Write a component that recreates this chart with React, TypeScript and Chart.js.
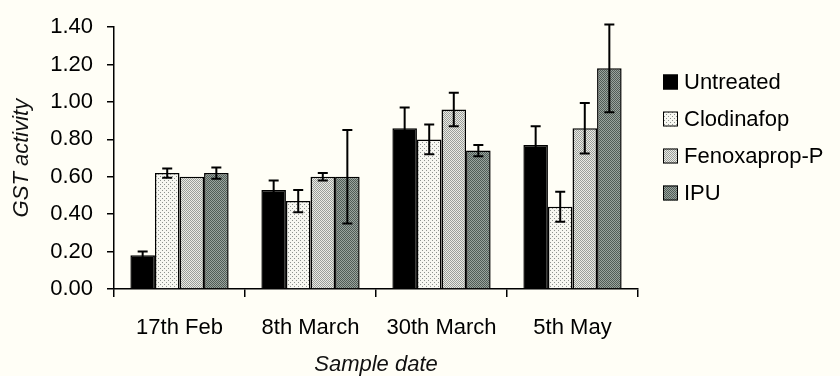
import React, { useEffect, useRef } from "react";
import { Chart, registerables } from "chart.js";

Chart.register(...registerables);

const categories = ["17th Feb", "8th March", "30th March", "5th May"];
const seriesNames = ["Untreated", "Clodinafop", "Fenoxaprop-P", "IPU"];
const untreated = [0.18, 0.53, 0.86, 0.77];
const untreatedErr = [0.02, 0.05, 0.11, 0.1];
const clodinafop = [0.62, 0.47, 0.8, 0.44];
const clodinafopErr = [0.025, 0.06, 0.08, 0.08];
const fenoxaprop = [0.6, 0.6, 0.96, 0.86];
const fenoxapropErr = [0, 0.02, 0.09, 0.135];
const ipu = [0.62, 0.6, 0.74, 1.18];
const ipuErr = [0.03, 0.25, 0.03, 0.235];
const yTicks = [0, 0.2, 0.4, 0.6, 0.8, 1.0, 1.2, 1.4];

const FONT = "'Liberation Sans', Arial, sans-serif";
const FS = 22;
const BG = "#fffef6";

function makePattern(size: number, bg: string, dot: string, dots: number[][]) {
  const c = document.createElement("canvas");
  c.width = size;
  c.height = size;
  const g = c.getContext("2d")!;
  g.fillStyle = bg;
  g.fillRect(0, 0, size, size);
  g.fillStyle = dot;
  dots.forEach(([x, y]) => g.fillRect(x, y, 1, 1));
  return g.createPattern(c, "repeat") as CanvasPattern;
}

const errorBarsPlugin = {
  id: "errorBars",
  afterDatasetsDraw(chart: any) {
    const ctx = chart.ctx;
    const yScale = chart.scales.y;
    ctx.save();
    ctx.strokeStyle = "#000";
    ctx.lineWidth = 2;
    chart.data.datasets.forEach((ds: any, i: number) => {
      const meta = chart.getDatasetMeta(i);
      meta.data.forEach((el: any, j: number) => {
        const err = ds.errors[j];
        if (!err) return;
        const v = ds.data[j];
        const yTop = yScale.getPixelForValue(v + err);
        const yBot = yScale.getPixelForValue(v - err);
        const x = el.x;
        ctx.beginPath();
        ctx.moveTo(x, yTop);
        ctx.lineTo(x, yBot);
        ctx.moveTo(x - 5, yTop);
        ctx.lineTo(x + 5, yTop);
        ctx.moveTo(x - 5, yBot);
        ctx.lineTo(x + 5, yBot);
        ctx.stroke();
      });
    });
    ctx.restore();
  },
};

const legendPlugin = {
  id: "customLegend",
  afterDraw(chart: any) {
    const ctx = chart.ctx;
    const area = chart.chartArea;
    const x0 = area.right + 25;
    const y0 = 82;
    const step = 37;
    ctx.save();
    chart.data.datasets.forEach((ds: any, i: number) => {
      const cy = y0 + i * step;
      ctx.fillStyle = ds.backgroundColor;
      ctx.fillRect(x0, cy - 7.5, 15, 15);
      ctx.strokeStyle = "#000";
      ctx.lineWidth = 1;
      ctx.strokeRect(x0 + 0.5, cy - 7, 14, 14);
      ctx.fillStyle = "#000";
      ctx.font = `${FS}px ${FONT}`;
      ctx.textBaseline = "middle";
      ctx.textAlign = "left";
      ctx.fillText(ds.label, x0 + 21, cy + 1);
    });
    ctx.restore();
  },
};

export default function App() {
  const ref = useRef<HTMLCanvasElement | null>(null);

  useEffect(() => {
    if (!ref.current) return;
    const clodPat = makePattern(4, "#f7f7f1", "#8e928e", [
      [0, 0],
      [2, 2],
    ]);
    const fenPat = makePattern(2, "#ebebe5", "#9a9e9a", [
      [0, 0],
      [1, 1],
    ]);
    const ipuPat = makePattern(2, "#9aa49e", "#505c56", [
      [0, 0],
      [1, 1],
    ]);
    const values = [untreated, clodinafop, fenoxaprop, ipu];
    const errors = [untreatedErr, clodinafopErr, fenoxapropErr, ipuErr];
    const fills: any[] = ["#000000", clodPat, fenPat, ipuPat];

    const chart = new Chart(ref.current, {
      type: "bar",
      data: {
        labels: categories,
        datasets: seriesNames.map((name, i) => ({
          label: name,
          data: values[i],
          errors: errors[i],
          backgroundColor: fills[i],
          borderColor: "#000",
          borderWidth: 1.5,
          categoryPercentage: 0.75,
          barPercentage: 1,
        })) as any,
      },
      options: {
        animation: false,
        responsive: true,
        maintainAspectRatio: false,
        layout: { padding: { left: 0, top: 23, right: 202, bottom: 0 } },
        plugins: {
          legend: { display: false },
          tooltip: { enabled: false },
        },
        scales: {
          x: {
            grid: {
              display: true,
              drawOnChartArea: false,
              drawTicks: true,
              tickLength: 8,
              color: "#000",
              lineWidth: 1.5,
              offset: true,
            },
            border: { display: true, color: "#000", width: 1.5 },
            ticks: {
              color: "#000",
              font: { family: FONT, size: FS },
              padding: 18,
              maxRotation: 0,
            },
            title: {
              display: true,
              text: "Sample date",
              color: "#111",
              font: { family: FONT, size: FS, style: "italic" },
              padding: { top: 0, bottom: -2 },
            },
            afterFit: (s: any) => {
              s.height = 87;
            },
          },
          y: {
            min: 0,
            max: 1.4,
            afterBuildTicks: (s: any) => {
              s.ticks = yTicks.map((v) => ({ value: v }));
            },
            grid: {
              display: true,
              drawOnChartArea: false,
              drawTicks: true,
              tickLength: 7,
              color: "#000",
              lineWidth: 1.5,
            },
            border: { display: true, color: "#000", width: 1.5 },
            ticks: {
              color: "#000",
              font: { family: FONT, size: FS },
              padding: 14,
              callback: (v: any) => Number(v).toFixed(2),
            },
            title: {
              display: true,
              text: "GST activity",
              color: "#111",
              font: { family: FONT, size: FS, style: "italic" },
              padding: { top: 9, bottom: 0 },
            },
            afterFit: (s: any) => {
              s.width = 114;
            },
          },
        },
      },
      plugins: [errorBarsPlugin, legendPlugin],
    });
    return () => chart.destroy();
  }, []);

  return (
    <div
      style={{
        position: "fixed",
        left: 0,
        top: 0,
        width: 840,
        height: 376,
        background: BG,
      }}
    >
      <canvas ref={ref} />
    </div>
  );
}
